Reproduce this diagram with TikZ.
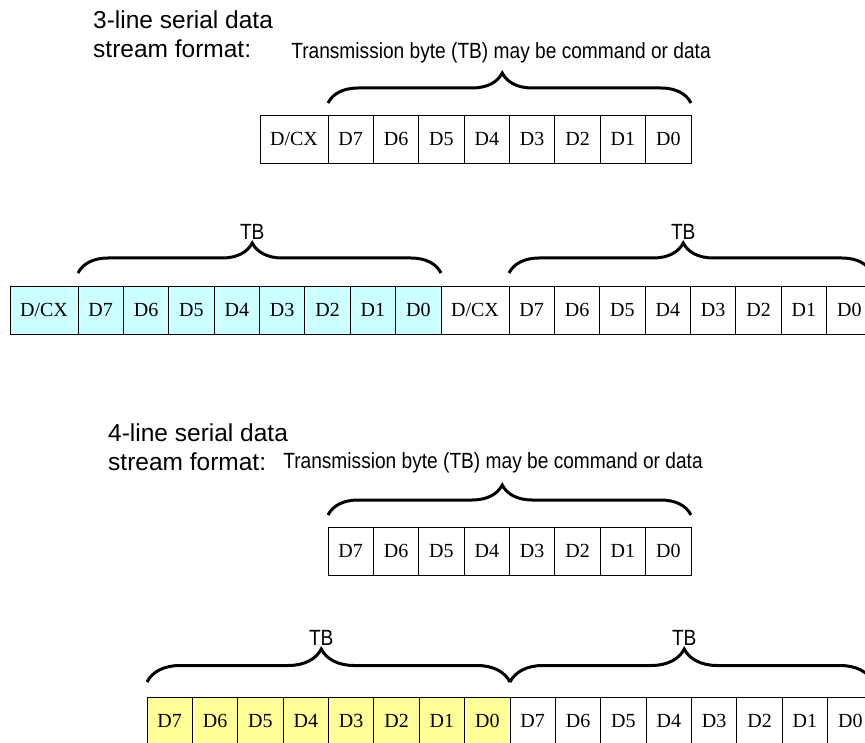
\documentclass[tikz,border=0pt]{standalone}
\usepackage{fontspec}
\setmainfont{Liberation Serif}
\newfontfamily\labelfont{Liberation Sans}
\newfontfamily\narrowfont[FakeStretch=0.87]{Liberation Sans}
\usetikzlibrary{decorations.pathreplacing}
\definecolor{tbcyan}{HTML}{CCFFFF}
\definecolor{tbyellow}{HTML}{FFFF99}
\tikzstyle{BitNode}=[rectangle, draw=black, line width=0.8pt, minimum width=45.375pt, minimum height=48pt, inner sep=0pt, outer sep=0pt, font=\fontsize{20}{24}\selectfont]
\tikzstyle{DcxNode}=[BitNode, minimum width=68pt]
\tikzstyle{CyanNode}=[fill=tbcyan]
\tikzstyle{YellowNode}=[fill=tbyellow]
\tikzstyle{TbBrace}=[decorate, decoration={brace, amplitude=30pt, aspect=0.48}, line width=3pt]
\tikzstyle{TitleText}=[anchor=west, align=left, inner sep=0pt, font=\labelfont\fontsize{24.5}{28.5}\selectfont]
\tikzstyle{NoteText}=[inner sep=1pt, font=\narrowfont\fontsize{22}{26}\selectfont]

\begin{document}
\begin{tikzpicture}[x=1pt, y=-1pt]
\useasboundingbox (0,0) rectangle (865,743);
\clip (0,0) rectangle (865,743);

% 3-line serial
\node[TitleText](TITLEA) at (93,34) {3-line serial data\\stream format:};
\node[NoteText](NOTEA) at (501,53) {Transmission byte (TB) may be command or data};
\node[DcxNode](DCXA) at (294,139) {D/CX};
\foreach \b [count=\i from 0] in {7,6,5,4,3,2,1,0}
  \node[BitNode](A\b) at ({350.69+45.375*\i},139) {D\b};
\draw[TbBrace] ([yshift=12pt]A7.north west) -- ([yshift=12pt]A0.north east);

\node[DcxNode, CyanNode](DCXB) at (44,310) {D/CX};
\foreach \b [count=\i from 0] in {7,6,5,4,3,2,1,0}
  \node[BitNode, CyanNode](B\b) at ({100.69+45.375*\i},310) {D\b};
\node[DcxNode](DCXC) at (475,310) {D/CX};
\foreach \b [count=\i from 0] in {7,6,5,4,3,2,1,0}
  \node[BitNode](C\b) at ({531.69+45.375*\i},310) {D\b};
\draw[TbBrace] ([yshift=13pt]B7.north west) -- ([yshift=13pt]B0.north east)
  node[NoteText, pos=0.48, above=31pt](TBB) {TB};
\draw[TbBrace] ([yshift=13pt]C7.north west) -- ([yshift=13pt]C0.north east)
  node[NoteText, pos=0.48, above=31pt](TBC) {TB};

% 4-line serial
\node[TitleText](TITLEE) at (108,447) {4-line serial data\\stream format:};
\node[NoteText](NOTEE) at (493,463) {Transmission byte (TB) may be command or data};
\foreach \b [count=\i from 0] in {7,6,5,4,3,2,1,0}
  \node[BitNode](E\b) at ({350.69+45.375*\i},551) {D\b};
\draw[TbBrace] ([yshift=12pt]E7.north west) -- ([yshift=12pt]E0.north east);

\foreach \b [count=\i from 0] in {7,6,5,4,3,2,1,0}
  \node[BitNode, YellowNode](F\b) at ({169.69+45.375*\i},721) {D\b};
\foreach \b [count=\i from 0] in {7,6,5,4,3,2,1,0}
  \node[BitNode](G\b) at ({532.69+45.375*\i},721) {D\b};
\draw[TbBrace, decoration={amplitude=33pt}] ([yshift=15pt]F7.north west) -- ([yshift=15pt]F0.north east)
  node[NoteText, pos=0.48, above=34pt](TBF) {TB};
\draw[TbBrace, decoration={amplitude=33pt}] ([yshift=15pt]G7.north west) -- ([yshift=15pt]G0.north east)
  node[NoteText, pos=0.48, above=34pt](TBG) {TB};
\end{tikzpicture}
\end{document}
